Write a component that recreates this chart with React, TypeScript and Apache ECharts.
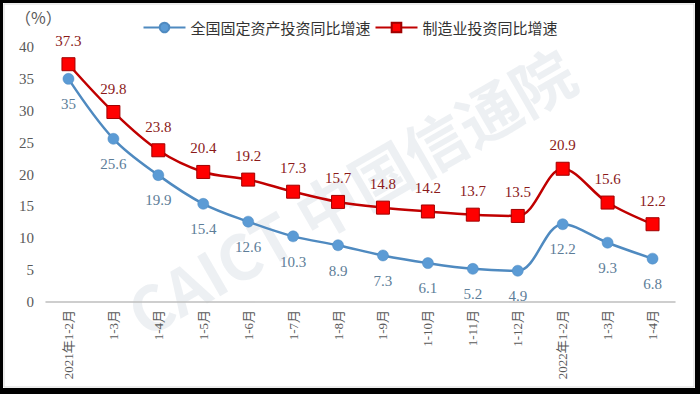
import React, { useEffect, useRef } from "react";
import * as echarts from "echarts";

const categories = [
  "2021年1-2月", "1-3月", "1-4月", "1-5月", "1-6月", "1-7月", "1-8月",
  "1-9月", "1-10月", "1-11月", "1-12月", "2022年1-2月", "1-3月", "1-4月",
];
const fixedAsset = [35, 25.6, 19.9, 15.4, 12.6, 10.3, 8.9, 7.3, 6.1, 5.2, 4.9, 12.2, 9.3, 6.8];
const manufacturing = [37.3, 29.8, 23.8, 20.4, 19.2, 17.3, 15.7, 14.8, 14.2, 13.7, 13.5, 20.9, 15.6, 12.2];
const seriesNames = ["全国固定资产投资同比增速", "制造业投资同比增速"];

const serif = "'Liberation Serif', 'DejaVu Serif', 'Noto Sans CJK SC', serif";
const cjk = "'Noto Sans CJK SC', sans-serif";

export default function App() {
  const ref = useRef<HTMLDivElement>(null);
  useEffect(() => {
    if (!ref.current) return;
    const chart = echarts.init(ref.current, null, { renderer: "svg" });
    chart.setOption({
      animation: false,
      backgroundColor: "#ffffff",
      legend: {
        top: 15,
        left: "center",
        itemWidth: 42,
        itemHeight: 12,
        itemGap: 4,
        textStyle: { fontFamily: cjk, fontSize: 15, color: "#333333" },
        data: seriesNames,
      },
      grid: { left: 46, right: 25, top: 47, bottom: 92 },
      graphic: [
        {
          type: "text",
          x: 350,
          y: 190,
          rotation: Math.PI / 6,
          silent: true,
          style: {
            text: "CAICT 中国信通院",
            font: "bold 62px 'Noto Sans CJK SC', sans-serif",
            fill: "rgba(175,185,200,0.22)",
            align: "center",
            verticalAlign: "middle",
          },
          z: -1,
        },
        {
          type: "text",
          left: 15,
          top: 9,
          style: {
            text: "（%）",
            font: "16px 'Noto Sans CJK SC', sans-serif",
            fill: "#595959",
          },
        },
        {
          type: "rect",
          shape: { x: 4, y: 4, width: 690, height: 383 },
          style: { fill: "none", stroke: "#d9d9d9", lineWidth: 1 },
          silent: true,
        },
      ],
      xAxis: {
        type: "category",
        data: categories,
        boundaryGap: true,
        axisLine: { lineStyle: { color: "#bfbfbf", width: 1.5 } },
        axisTick: { show: false },
        axisLabel: {
          rotate: 90,
          interval: 0,
          margin: 8,
          color: "#595959",
          fontFamily: serif,
          fontSize: 13,
        },
      },
      yAxis: {
        type: "value",
        min: 0,
        max: 40,
        interval: 5,
        splitLine: { show: false },
        axisLine: { show: false },
        axisTick: { show: false },
        axisLabel: { color: "#595959", fontFamily: serif, fontSize: 15, margin: 12 },
      },
      series: [
        {
          name: seriesNames[0],
          type: "line",
          data: fixedAsset,
          smooth: 0.35,
          symbol: "circle",
          symbolSize: 11,
          lineStyle: { color: "#4f8ac0", width: 2.5 },
          itemStyle: { color: "#5b9bd5", borderColor: "#4f8ac0", borderWidth: 0.5 },
          label: {
            show: true,
            position: "bottom",
            distance: 12,
            color: "#5d7d98",
            fontFamily: serif,
            fontSize: 15,
          },
          z: 2,
        },
        {
          name: seriesNames[1],
          type: "line",
          data: manufacturing,
          smooth: 0.35,
          symbol: "rect",
          symbolSize: 13,
          lineStyle: { color: "#c00000", width: 2.5 },
          itemStyle: { color: "#ff0000", borderColor: "#a00000", borderWidth: 1 },
          label: {
            show: true,
            position: "top",
            distance: 9,
            color: "#8b1a1a",
            fontFamily: serif,
            fontSize: 15,
          },
          z: 3,
        },
      ],
    });
    return () => chart.dispose();
  }, []);

  return (
    <div style={{ position: "fixed", left: 0, top: 0, width: 700, height: 394 }}>
      <div ref={ref} style={{ position: "absolute", left: 0, top: 0, width: 700, height: 394 }} />
      <div
        style={{
          position: "absolute",
          left: 0,
          top: 0,
          width: 700,
          height: 394,
          boxSizing: "border-box",
          borderStyle: "solid",
          borderColor: "#000000",
          borderWidth: "3px 5px 6px 3px",
          pointerEvents: "none",
        }}
      />
    </div>
  );
}
